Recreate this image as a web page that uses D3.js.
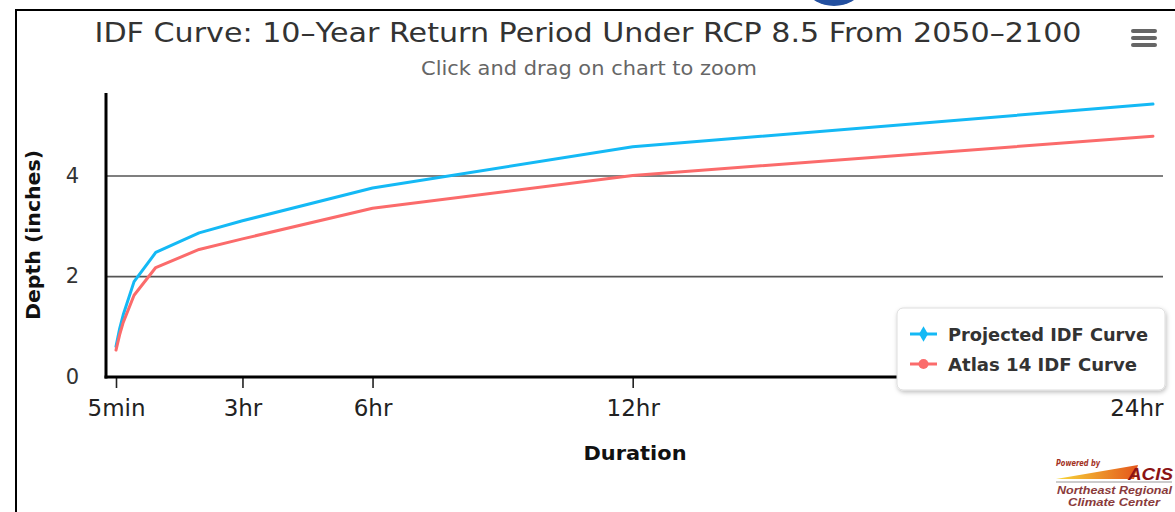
<!DOCTYPE html>
<html><head><meta charset="utf-8">
<script src="https://cdn.jsdelivr.net/npm/d3@7"></script>
<style>body{margin:0;background:#fff;} svg{display:block;}</style>
</head><body><svg id="c" width="1175" height="512"></svg>
<script>
// ---- data ----
const durations = [5, 10, 15, 30, 60, 120, 180, 360, 720, 1440]; // minutes
const projected = [0.60, 0.95, 1.23, 1.89, 2.47, 2.86, 3.10, 3.75, 4.57, 5.42];
const atlas14   = [0.53, 0.83, 1.08, 1.62, 2.17, 2.53, 2.74, 3.35, 4.00, 4.78];
const seriesNames = ["Projected IDF Curve", "Atlas 14 IDF Curve"];
const seriesColors = ["#14b9f5", "#fb6b6b"];
const xTickValues = [5, 180, 360, 720, 1440];
const xTickLabels = ["5min", "3hr", "6hr", "12hr", "24hr"];
const yTickValues = [0, 2, 4];
const titleText = "IDF Curve: 10–Year Return Period Under RCP 8.5 From 2050–2100";
const subtitleText = "Click and drag on chart to zoom";

const svg = d3.select("#c");
const FONT = "'DejaVu Sans', sans-serif";

// frame
svg.append("path").attr("d","M16,512V10H1175").attr("fill","none").attr("stroke","#000").attr("stroke-width",2);
svg.append("ellipse").attr("cx",834).attr("cy",-9).attr("rx",25).attr("ry",15).attr("fill","#2350a0");

// scales
const x = d3.scaleLinear().domain([5,1440]).range([116,1153]);
const y = d3.scaleLinear().domain([0,4]).range([376.7,175.5]);
const plotLeft = 106, plotRight = 1163, plotTop = 93, plotBottom = 377;

// title
svg.append("text").attr("x",588).attr("y",42).attr("text-anchor","middle")
  .attr("font-family",FONT).attr("font-size",27).attr("fill","#333")
  .attr("textLength",987).attr("lengthAdjust","spacingAndGlyphs").text(titleText);
svg.append("text").attr("x",589).attr("y",75).attr("text-anchor","middle")
  .attr("font-family",FONT).attr("font-size",19).attr("fill","#666")
  .attr("textLength",336).attr("lengthAdjust","spacingAndGlyphs").text(subtitleText);

// hamburger
[29,36,43].forEach(v=>svg.append("rect").attr("x",1131).attr("y",v).attr("width",26).attr("height",4).attr("rx",2).attr("fill","#666"));

// y axis with grid
const yAxis = d3.axisLeft(y).tickValues(yTickValues).tickSize(-(plotRight-plotLeft)).tickPadding(27).tickFormat(d3.format("d"));
const gy = svg.append("g").attr("transform",`translate(${plotLeft},0)`).call(yAxis);
gy.select(".domain").remove();
gy.selectAll(".tick line").attr("stroke","#555").attr("stroke-width",1.6);
gy.selectAll(".tick text").attr("font-family",FONT).attr("font-size",21).attr("fill","#333");

// x axis
const xAxis = d3.axisBottom(x).tickValues(xTickValues).tickSize(11)
  .tickFormat((d,i)=>xTickLabels[i]);
const gx = svg.append("g").attr("transform",`translate(0,${plotBottom})`).call(xAxis);
gx.select(".domain").remove();
gx.selectAll(".tick line").attr("stroke","#222").attr("stroke-width",1.6);
gx.selectAll(".tick text").attr("font-family",FONT).attr("font-size",23).attr("fill","#222")
  .attr("y",39).attr("dy",0);
gx.selectAll(".tick text").filter(d=>d===1440).attr("text-anchor","end").attr("x",plotRight - x(1440));

// axis lines
svg.append("line").attr("x1",plotLeft).attr("x2",plotLeft).attr("y1",plotTop).attr("y2",plotBottom+1.5)
  .attr("stroke","#000").attr("stroke-width",3);
svg.append("line").attr("x1",plotLeft-1.5).attr("x2",plotRight).attr("y1",plotBottom).attr("y2",plotBottom)
  .attr("stroke","#000").attr("stroke-width",3);

// axis titles
svg.append("text").attr("transform","translate(40,235) rotate(-90)").attr("text-anchor","middle")
  .attr("font-family",FONT).attr("font-weight","bold").attr("font-size",19).attr("fill","#111")
  .attr("textLength",170).attr("lengthAdjust","spacingAndGlyphs").text("Depth (inches)");
svg.append("text").attr("x",635).attr("y",460).attr("text-anchor","middle")
  .attr("font-family",FONT).attr("font-weight","bold").attr("font-size",20).attr("fill","#111")
  .attr("textLength",103).attr("lengthAdjust","spacingAndGlyphs").text("Duration");

// lines
const line = d3.line().x(d=>x(d[0])).y(d=>y(d[1]));
[projected, atlas14].forEach((vals,i)=>{
  svg.append("path").datum(durations.map((d,j)=>[d,vals[j]]))
    .attr("d",line).attr("fill","none").attr("stroke",seriesColors[i]).attr("stroke-width",3)
    .attr("stroke-linejoin","round").attr("stroke-linecap","round");
});

// legend
const defs = svg.append("defs");
const f = defs.append("filter").attr("id","sh").attr("x","-10%").attr("y","-10%").attr("width","130%").attr("height","140%");
f.append("feDropShadow").attr("dx",1).attr("dy",2).attr("stdDeviation",2).attr("flood-color","#000").attr("flood-opacity",0.25);
svg.append("rect").attr("x",897).attr("y",308).attr("width",268).attr("height",82).attr("rx",6)
  .attr("fill","#fff").attr("stroke","#ddd").attr("filter","url(#sh)");
const legY = [334, 364];
seriesNames.forEach((n,i)=>{
  svg.append("line").attr("x1",910).attr("x2",937).attr("y1",legY[i]).attr("y2",legY[i])
    .attr("stroke",seriesColors[i]).attr("stroke-width",3);
  if(i===0){
    svg.append("path").attr("d",d3.symbol(d3.symbolDiamond,70)()).attr("transform",`translate(923.5,${legY[i]})`).attr("fill",seriesColors[i]);
  } else {
    svg.append("circle").attr("cx",923.5).attr("cy",legY[i]).attr("r",5).attr("fill",seriesColors[i]);
  }
  svg.append("text").attr("x",948).attr("y",legY[i]+7).attr("font-family",FONT).attr("font-weight","bold")
    .attr("font-size",17).attr("fill","#333")
    .attr("textLength",i===0?200:189).attr("lengthAdjust","spacingAndGlyphs").text(n);
});

// logo
const g = defs.append("linearGradient").attr("id","wg").attr("x1","0").attr("x2","1");
g.append("stop").attr("offset","0").attr("stop-color","#f7d83a");
g.append("stop").attr("offset","1").attr("stop-color","#e4561c");
svg.append("text").attr("x",1056).attr("y",466).attr("font-family",FONT).attr("font-style","italic").attr("font-weight","bold")
  .attr("font-size",8).attr("fill","#a3321f").attr("textLength",44).attr("lengthAdjust","spacingAndGlyphs").text("Powered by");
svg.append("path").attr("d","M1056,479 L1138,465 L1134,479 Z").attr("fill","url(#wg)");
svg.append("text").attr("x",1128).attr("y",480).attr("font-family","'Liberation Sans', sans-serif").attr("font-style","italic").attr("font-weight","bold")
  .attr("font-size",17).attr("fill","#8c1414").attr("textLength",45).attr("lengthAdjust","spacingAndGlyphs").text("ACIS");
svg.append("line").attr("x1",1056).attr("x2",1172).attr("y1",482).attr("y2",482).attr("stroke","#999").attr("stroke-width",1);
svg.append("text").attr("x",1057).attr("y",494).attr("font-family","'Liberation Sans', sans-serif").attr("font-style","italic").attr("font-weight","bold")
  .attr("font-size",11).attr("fill","#8a3b3b").attr("textLength",115).attr("lengthAdjust","spacingAndGlyphs").text("Northeast Regional");
svg.append("text").attr("x",1068).attr("y",506).attr("font-family","'Liberation Sans', sans-serif").attr("font-style","italic").attr("font-weight","bold")
  .attr("font-size",11).attr("fill","#8a3b3b").attr("textLength",92).attr("lengthAdjust","spacingAndGlyphs").text("Climate Center");
</script></body></html>
